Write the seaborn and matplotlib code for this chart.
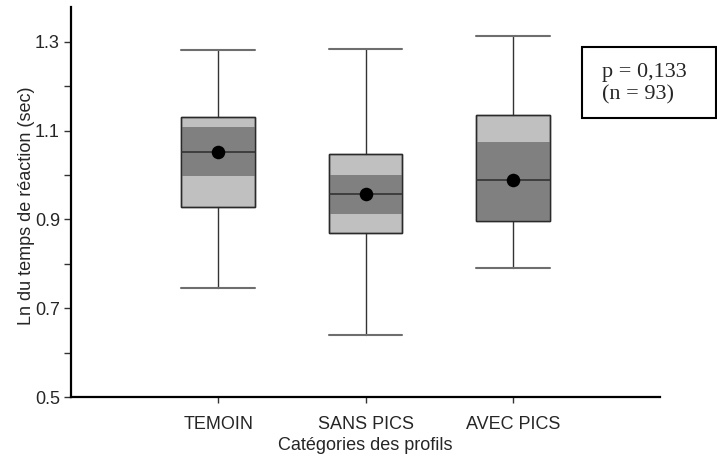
import matplotlib
matplotlib.use("Agg")
import matplotlib.pyplot as plt
from matplotlib.patches import Rectangle
from matplotlib.ticker import MultipleLocator
import seaborn as sns
import pandas as pd

categories = ["TEMOIN", "SANS PICS", "AVEC PICS"]
whisker_low = [0.745, 0.640, 0.790]
q1 = [0.927, 0.870, 0.897]
ci_low = [0.997, 0.913, 0.897]
median = [1.052, 0.957, 0.988]
ci_high = [1.108, 1.000, 1.074]
q3 = [1.131, 1.047, 1.136]
whisker_high = [1.281, 1.284, 1.312]
means = [1.052, 0.957, 0.988]
y_ticks = [0.5, 0.7, 0.9, 1.1, 1.3]
annot = "p = 0,133\n(n = 93)"

sns.set_theme(style="ticks")
plt.rcParams["font.family"] = ["Liberation Sans", "DejaVu Sans"]

fig = plt.figure(figsize=(7.17, 4.57), dpi=100)
ax = fig.add_axes([71 / 717, 1 - 397.3 / 457, (660 - 71) / 717, (397.3 - 7) / 457])

pos = list(range(len(categories)))
stats = []
for i, c in enumerate(categories):
    stats.append(dict(label=c, whislo=whisker_low[i], q1=q1[i], med=median[i],
                      q3=q3[i], whishi=whisker_high[i], fliers=[]))

light = "#C0C0C0"
dark = "#808080"
ax.bxp(stats, positions=pos, widths=0.5, patch_artist=True, showfliers=False,
       boxprops=dict(facecolor=light, edgecolor="#2a2a2a", linewidth=1.0, zorder=1),
       whiskerprops=dict(color="#333333", linewidth=1.0),
       capprops=dict(color="#6e6e6e", linewidth=1.5),
       capwidths=0.5,
       medianprops=dict(color="#333333", linewidth=1.2, zorder=4),
       manage_ticks=False)

# dark band
ax.bar(pos, [h - l for h, l in zip(ci_high, ci_low)], bottom=ci_low, width=0.5,
       color=dark, edgecolor="none", zorder=2)
# box outline on top
ax.bar(pos, [h - l for h, l in zip(q3, q1)], bottom=q1, width=0.5,
       fill=False, edgecolor="#2a2a2a", linewidth=1.0, zorder=3)

df = pd.DataFrame({"cat": categories, "mean": means})
sns.scatterplot(data=df, x="cat", y="mean", s=95, color="black", edgecolor="black",
                linewidth=0, zorder=5, ax=ax, legend=False)

ax.set_xlim(-1, 3)
ax.set_ylim(0.5, 1.378)
ax.set_xticks(pos)
ax.set_xticklabels(categories, fontsize=13)
ax.set_yticks(y_ticks)
ax.set_yticklabels([f"{v:.1f}" for v in y_ticks], fontsize=13)
ax.yaxis.set_minor_locator(MultipleLocator(0.1))
ax.tick_params(axis="y", which="both", length=5, width=1, color="#333333", pad=3, direction="out")
ax.tick_params(axis="x", length=4, width=1, color="#333333", pad=9.5, direction="out")

for s in ["top", "right"]:
    ax.spines[s].set_visible(False)
for s in ["left", "bottom"]:
    ax.spines[s].set_linewidth(1.6)
    ax.spines[s].set_color("black")

ax.set_xlabel("Catégories des profils", fontsize=13, labelpad=3)
ax.set_ylabel("Ln du temps de réaction (sec)", fontsize=13)
ax.yaxis.set_label_coords(-0.061, 0.49)

# annotation box
fig.patches.append(Rectangle((581.7 / 717, 1 - 118.3 / 457), (716 - 581.7) / 717, (118.3 - 46.7) / 457,
                             transform=fig.transFigure, fill=False, edgecolor="black", linewidth=1.5))
fig.text(601.7 / 717, 1 - 83.5 / 457, annot, family=["Liberation Serif", "DejaVu Serif"],
         fontsize=16, ha="left", va="center", linespacing=1.2)

fig.savefig("out.png", dpi=100)
